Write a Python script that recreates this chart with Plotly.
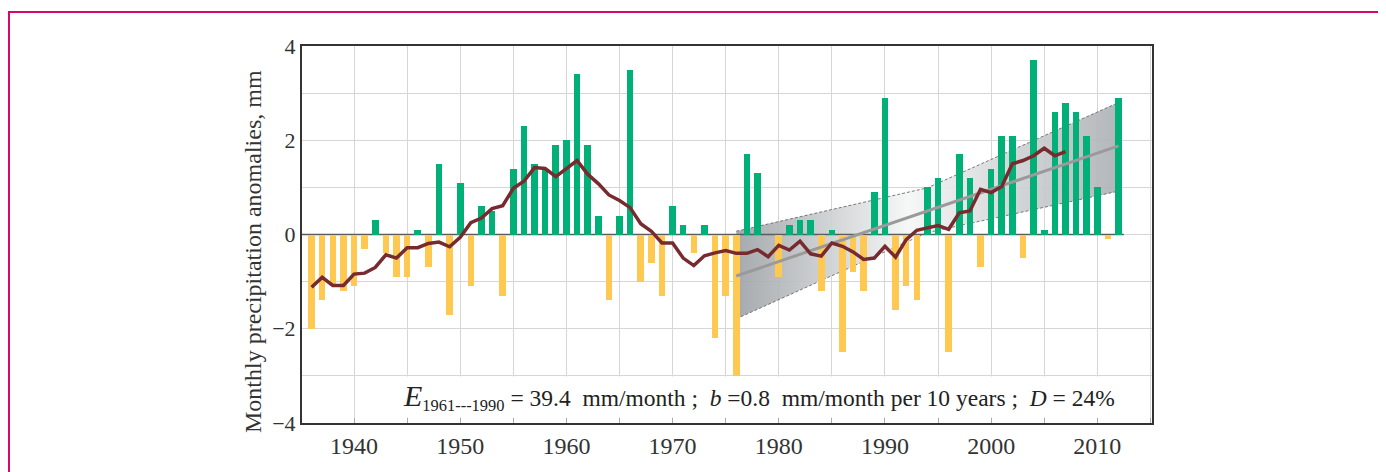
import plotly.graph_objects as go

# ---------------- data ----------------
years = list(range(1936, 2013))
anomalies = [
    -2.0, -1.4, -1.1, -1.2, -1.1, -0.3, 0.3, -0.4, -0.9, -0.9,   # 1936-1945
    0.1, -0.7, 1.5, -1.7, 1.1, -1.1, 0.6, 0.5, -1.3, 1.4,        # 1946-1955
    2.3, 1.5, 1.4, 1.9, 2.0, 3.4, 1.9, 0.4, -1.4, 0.4,           # 1956-1965
    3.5, -1.0, -0.6, -1.3, 0.6, 0.2, -0.4, 0.2, -2.2, -1.3,      # 1966-1975
    -3.0, 1.7, 1.3, 0.0, -0.9, 0.2, 0.3, 0.3, -1.2, 0.1,         # 1976-1985
    -2.5, -0.8, -1.2, 0.9, 2.9, -1.6, -1.1, -1.4, 1.0, 1.2,      # 1986-1995
    -2.5, 1.7, 1.2, -0.7, 1.4, 2.1, 2.1, -0.5, 3.7, 0.1,         # 1996-2005
    2.6, 2.8, 2.6, 2.1, 1.0, -0.1, 2.9,                          # 2006-2012
]

ma_years = list(range(1936, 2008))
moving_avg = [
    -1.12, -0.91, -1.08, -1.08, -0.84, -0.82, -0.70, -0.43, -0.50, -0.28,
    -0.28, -0.19, -0.16, -0.26, -0.06, 0.25, 0.35, 0.55, 0.61, 0.98,
    1.13, 1.42, 1.40, 1.23, 1.40, 1.57, 1.28, 1.08, 0.84, 0.72,
    0.57, 0.23, 0.07, -0.18, -0.18, -0.50, -0.66, -0.45, -0.39, -0.34,
    -0.40, -0.40, -0.32, -0.47, -0.23, -0.33, -0.14, -0.41, -0.46, -0.18,
    -0.25, -0.37, -0.53, -0.50, -0.25, -0.48, -0.11, 0.09, 0.14, 0.19,
    0.11, 0.46, 0.50, 0.96, 0.89, 1.02, 1.50, 1.57, 1.67, 1.83,
    1.67, 1.76,
]

trend_years = [1976, 2012]
trend_vals = [-0.88, 1.88]

band_years = [1976, 1994, 2012]
band_upper = [0.07, 0.99, 2.80]
band_lower = [-1.79, 0.04, 0.92]

x_ticks = [1940, 1950, 1960, 1970, 1980, 1990, 2000, 2010]
y_ticks = [-4, -2, 0, 2, 4]

X_RANGE = [1935.1, 2015.15]
Y_RANGE = [-4, 4]

FONT = "Liberation Serif"
GREEN = "#00b077"
ORANGE = "#ffc850"

fig = go.Figure()

# ---- confidence band (base axes, drawn beneath the bars) ----
fig.add_trace(go.Scatter(
    x=band_years, y=band_lower, mode="lines",
    line=dict(color="#5a5a5a", width=0.8, dash="3px,2px"),
    hoverinfo="skip", showlegend=False))
fig.add_trace(go.Scatter(
    x=band_years, y=band_upper, mode="lines",
    line=dict(color="#5a5a5a", width=0.8, dash="3px,2px"),
    fill="tonexty",
    fillgradient=dict(type="horizontal", colorscale=[
        [0.0, "rgba(158,163,167,0.92)"],
        [0.45, "rgba(245,246,246,0.92)"],
        [1.0, "rgba(172,177,181,0.92)"]]),
    hoverinfo="skip", showlegend=False))

# zero line from the left edge to the last bar
fig.add_trace(go.Scatter(
    x=[X_RANGE[0], years[-1] + 0.5], y=[0, 0], mode="lines",
    line=dict(color="#5c5c5c", width=1.6),
    hoverinfo="skip", showlegend=False))

# ---- bars and lines on overlay axes (drawn above the band) ----
fig.add_trace(go.Bar(
    x=years, y=anomalies, width=0.62,
    marker=dict(color=[GREEN if v >= 0 else ORANGE for v in anomalies], line=dict(width=0)),
    xaxis="x2", yaxis="y2", showlegend=False))

fig.add_trace(go.Scatter(
    x=trend_years, y=trend_vals, mode="lines",
    line=dict(color="#9a9a9a", width=3),
    xaxis="x2", yaxis="y2", showlegend=False))

fig.add_trace(go.Scatter(
    x=ma_years, y=moving_avg, mode="lines",
    line=dict(color="#772b2e", width=3.5),
    xaxis="x2", yaxis="y2", showlegend=False))

GRID = "#d6d6d6"
# page body has an 8px default margin: figure is 1378x464 so it fills the 1386x472 window
fig.update_layout(
    width=1378, height=464,
    margin=dict(l=294, r=234, t=38, b=49),
    paper_bgcolor="white", plot_bgcolor="white",
    showlegend=False,
    bargap=0,
    xaxis=dict(
        range=X_RANGE, tickvals=x_ticks,
        showgrid=True, gridcolor=GRID, gridwidth=1,
        minor=dict(tick0=1935, dtick=5, showgrid=True, gridcolor=GRID, gridwidth=1,
                   ticks="inside", ticklen=5, tickcolor="#aaaaaa"),
        ticks="inside", ticklen=5, tickcolor="#aaaaaa",
        showline=True, linecolor="#333333", linewidth=2, mirror=True,
        zeroline=False,
        tickfont=dict(family=FONT, size=24, color="#333333"),
    ),
    yaxis=dict(
        range=Y_RANGE, tickvals=y_ticks,
        showgrid=True, gridcolor=GRID, gridwidth=1,
        minor=dict(dtick=1, showgrid=True, gridcolor=GRID, gridwidth=1),
        ticks="",
        showline=True, linecolor="#333333", linewidth=2, mirror=True,
        zeroline=False,
        tickfont=dict(family=FONT, size=22, color="#333333"),
    ),
    xaxis2=dict(range=X_RANGE, overlaying="x", visible=False, showgrid=False, zeroline=False),
    yaxis2=dict(range=Y_RANGE, overlaying="y", visible=False, showgrid=False, zeroline=False),
)

# y-axis title as rotated annotation
fig.add_annotation(
    text="Monthly precipitation anomalies, mm",
    xref="paper", yref="paper", x=-0.0576, y=0.4536,
    xanchor="center", yanchor="middle", textangle=-90, showarrow=False,
    font=dict(family=FONT, size=24, color="#333333"))

# statistics text
fig.add_annotation(
    text=("<span style='font-size:30px'><i>E</i></span><sub>1961---1990</sub> = 39.4&nbsp; mm/month&nbsp;;&nbsp; "
          "<i>b</i> =0.8&nbsp; mm/month per 10 years&nbsp;;&nbsp; <i>D</i> = 24%"),
    xref="paper", yref="paper", x=0.5376, y=0.069,
    xanchor="center", yanchor="middle", showarrow=False,
    bgcolor="white", borderpad=2,
    font=dict(family=FONT, size=23.5, color="#222222"))

# magenta frame (top and left visible)
fig.add_shape(type="rect", xref="paper", yref="paper",
              x0=-0.3447, x1=1.30, y0=-0.3, y1=1.0902,
              line=dict(color="#d4086e", width=2), layer="above")

fig.write_html("out.html")
